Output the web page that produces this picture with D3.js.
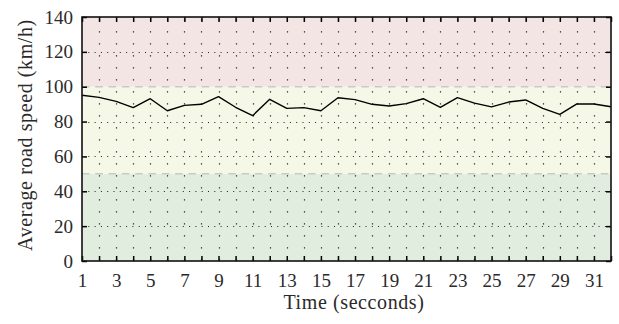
<!DOCTYPE html>
<html>
<head>
<meta charset="utf-8">
<script src="https://cdn.jsdelivr.net/npm/d3@7"></script>
<style>
  body { margin: 0; background: #fff; }
  svg { display: block; font-family: "Liberation Serif", "DejaVu Serif", serif; }
</style>
</head>
<body>
<svg id="chart" width="619" height="324"></svg>
<script>
// data
const seconds = d3.range(1, 33);
const speed = [95.1, 93.9, 91.6, 88.0, 93.1, 86.2, 89.3, 89.9, 94.3, 88.2,
               83.4, 92.8, 87.6, 88.0, 86.2, 93.7, 92.6, 89.9, 88.9, 90.3,
               93.1, 88.2, 93.7, 90.6, 88.4, 91.2, 92.4, 87.6, 84.1, 90.1,
               90.1, 88.5];
const xTickLabels = d3.range(1, 32, 2);
const yTickLabels = [0, 20, 40, 60, 80, 100, 120, 140];
const bands = [
  { from: 0, to: 50, color: "#e1eedf" },
  { from: 50, to: 100, color: "#f5f7e7" },
  { from: 100, to: 140, color: "#f4e5e5" }
];
const limits = [50, 100];

const margin = { top: 17, right: 8, bottom: 63, left: 82 };
const width = 619, height = 324;

const svg = d3.select("#chart");

// scales
const xScale = d3.scaleLinear()
  .domain([1, 32])
  .range([margin.left, width - margin.right]);
const yScale = d3.scaleLinear()
  .domain([0, 140])
  .range([height - margin.bottom, margin.top]);

const x0 = xScale.range()[0], x1 = xScale.range()[1];
const y0 = yScale.range()[0], y1 = yScale.range()[1];

// background bands
svg.append("g").selectAll("rect")
  .data(bands)
  .join("rect")
  .attr("x", x0)
  .attr("width", x1 - x0)
  .attr("y", d => yScale(d.to))
  .attr("height", d => yScale(d.from) - yScale(d.to))
  .attr("fill", d => d.color);

// dotted grid
const grid = svg.append("g").attr("stroke", "#222").attr("stroke-width", 1.2);
grid.selectAll(".vg")
  .data(seconds.slice(1, -1))
  .join("line")
  .attr("x1", d => Math.round(xScale(d)) + 0.5)
  .attr("x2", d => Math.round(xScale(d)) + 0.5)
  .attr("y1", y0 - 0.5)
  .attr("y2", y1)
  .attr("stroke-dasharray", "1.2,10.8");
grid.selectAll(".hg")
  .data(yTickLabels.filter(d => d > 0 && d < 140 && d !== 100))
  .join("line")
  .attr("x1", x0)
  .attr("x2", x1)
  .attr("y1", d => Math.round(yScale(d)) + 0.5)
  .attr("y2", d => Math.round(yScale(d)) + 0.5)
  .attr("stroke-dasharray", "1,5.3");

// limit lines
svg.append("g").selectAll("line")
  .data(limits)
  .join("line")
  .attr("x1", x0)
  .attr("x2", x1)
  .attr("y1", d => yScale(d))
  .attr("y2", d => yScale(d))
  .attr("stroke", "#c9c9c9")
  .attr("stroke-width", 1.5)
  .attr("stroke-dasharray", "7.5,5.8");

// speed line
const line = d3.line()
  .x((d, i) => xScale(seconds[i]))
  .y(d => yScale(d));
svg.append("path")
  .datum(speed)
  .attr("d", line)
  .attr("fill", "none")
  .attr("stroke", "#000")
  .attr("stroke-width", 1.4)
  .attr("stroke-linejoin", "round");

// axes with inward ticks
const xAxis = d3.axisBottom(xScale).tickValues(seconds).tickSize(-5).tickPadding(12)
  .tickFormat(d => xTickLabels.includes(d) ? d : "");
const xTop = d3.axisTop(xScale).tickValues(seconds).tickSize(-5).tickFormat("");
const yAxis = d3.axisLeft(yScale).tickValues(yTickLabels).tickSize(-5).tickPadding(9);
const yRight = d3.axisRight(yScale).tickValues(yTickLabels).tickSize(-5).tickFormat("");

function styleAxis(g) {
  g.select(".domain").remove();
  g.selectAll(".tick line").attr("stroke", "#000").attr("stroke-width", 1.5);
  g.selectAll(".tick text").attr("fill", "#2a2a2a").style("font-size", "19px")
    .style("font-family", "Liberation Serif, serif");
}

svg.append("g").attr("transform", `translate(0,${y0})`).call(xAxis).call(styleAxis)
  .selectAll(".tick text").attr("dy", "0.72em");
svg.append("g").attr("transform", `translate(0,${y1})`).call(xTop).call(styleAxis);
svg.append("g").attr("transform", `translate(${x0},0)`).call(yAxis).call(styleAxis);
svg.append("g").attr("transform", `translate(${x1},0)`).call(yRight).call(styleAxis);

// frame
svg.append("rect")
  .attr("x", x0)
  .attr("y", y1)
  .attr("width", x1 - x0)
  .attr("height", y0 - y1)
  .attr("fill", "none")
  .attr("stroke", "#111")
  .attr("stroke-width", 1.6);

// axis titles
svg.append("text")
  .attr("x", 354)
  .attr("y", 309)
  .attr("text-anchor", "middle")
  .attr("fill", "#2a2a2a")
  .style("font-size", "20px")
  .style("letter-spacing", "0.6px")
  .text("Time (secconds)");
svg.append("text")
  .attr("transform", `translate(32,135) rotate(-90)`)
  .attr("text-anchor", "middle")
  .attr("fill", "#2a2a2a")
  .style("font-size", "20px")
  .style("letter-spacing", "0.6px")
  .text("Average road speed (km/h)");
</script>
</body>
</html>
